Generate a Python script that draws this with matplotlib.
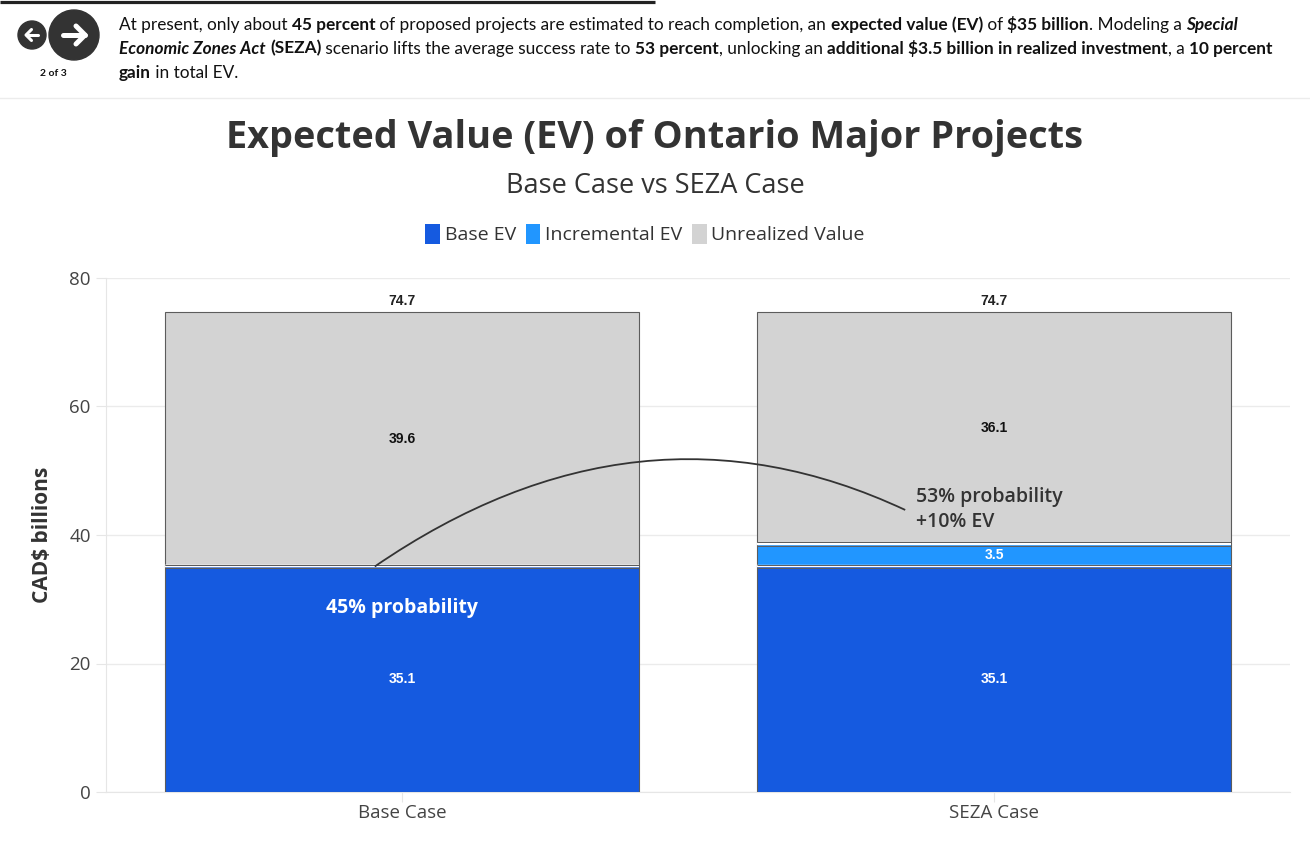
import numpy as np
import matplotlib
matplotlib.use('Agg')
import matplotlib.pyplot as plt
from matplotlib.patches import Circle, Patch, PathPatch
from matplotlib.path import Path
from matplotlib.transforms import offset_copy
from matplotlib.font_manager import FontProperties

plt.rcParams['font.family'] = ['Open Sans', 'DejaVu Sans']

categories = ['Base Case', 'SEZA Case']
base_ev = [35.1, 35.1]
incremental_ev = [0.0, 3.5]
unrealized = [39.6, 36.1]
probabilities = ['45% probability', '53% probability']
ev_gain = '+10% EV'

series_names = ['Base EV', 'Incremental EV', 'Unrealized Value']
colors = ['#155ae0', '#2196ff', '#d3d3d3']
label_colors = ['white', 'white', '#111111']
edge = '#5c5c5c'

W, H = 1310, 841
fig = plt.figure(figsize=(W / 100, H / 100), dpi=100)
fig.patch.set_facecolor('white')

# header strip, drawn in pixel units
hdr = fig.add_axes([0, 0, 1, 1], zorder=0)
hdr.set_xlim(0, W)
hdr.set_ylim(H, 0)
hdr.axis('off')

hdr.plot([0, 655], [1.5, 1.5], color='#222222', lw=2.3, solid_capstyle='butt')
hdr.plot([0, W], [97.5, 97.5], color='#ececec', lw=1)

hdr.add_patch(Circle((32, 35), 14, color='#333333'))
hdr.add_patch(Circle((74, 35), 25, color='#333333'))
hdr.plot([38, 26.5], [35, 35], color='white', lw=2.2, solid_capstyle='round')
hdr.plot([31.5, 26, 31.5], [29.5, 35, 40.5], color='white', lw=2.2,
         solid_capstyle='round', solid_joinstyle='round')
hdr.plot([63, 85], [35, 35], color='white', lw=3.6, solid_capstyle='round')
hdr.plot([76, 85, 76], [26, 35, 44], color='white', lw=3.6,
         solid_capstyle='round', solid_joinstyle='round')
hdr.text(53, 73, '2 of 3', ha='center', va='center', fontsize=7.5,
         fontweight='bold', family='Lato', color='#111111')

renderer = fig.canvas.get_renderer()


def text_width(s, size, weight, style):
    fp = FontProperties(family='Lato', size=size, weight=weight, style=style)
    w1 = renderer.get_text_width_height_descent('x' + s + 'x', fp, ismath=False)[0]
    w0 = renderer.get_text_width_height_descent('xx', fp, ismath=False)[0]
    return w1 - w0


N, B, BI = ('normal', 'normal'), ('bold', 'normal'), ('bold', 'italic')
para = [
    [("At present, only about ", N), ("45 percent", B),
     (" of proposed projects are estimated to reach completion, an ", N),
     ("expected value (EV)", B), (" of ", N), ("$35 billion", B),
     (". Modeling a ", N), ("Special", BI)],
    [("Economic Zones Act", BI), (" ", N), ("(SEZA)", B),
     (" scenario lifts the average success rate to ", N), ("53 percent", B),
     (", unlocking an ", N), ("additional $3.5 billion in realized investment", B),
     (", a ", N), ("10 percent", B)],
    [("gain", B), (" in total EV.", N)],
]
psize = 12.4
for row, base_y in zip(para, [29.5, 53.5, 77.5]):
    xx = 119
    for s, (wt, st) in row:
        hdr.text(xx, base_y, s, fontsize=psize, fontweight=wt, fontstyle=st,
                 family='Lato', color='#111111', va='baseline', ha='left')
        xx += text_width(s, psize, wt, st)

# titles and legend
fig.text(0.5, 1 - 138 / H, 'Expected Value (EV) of Ontario Major Projects',
         ha='center', va='center', fontsize=27.3, fontweight='bold', color='#333333')
fig.text(0.5, 1 - 186 / H, 'Base Case vs SEZA Case', ha='center', va='center',
         fontsize=19.5, color='#333333')

# chart
ax = fig.add_axes([106 / W, 1 - 792 / H, (1290 - 106) / W, (792 - 278) / H], zorder=2)
ax.set_facecolor('none')
x = np.arange(len(categories))
width = 0.8
bottoms = np.zeros(len(categories))
for vals, name, col, lc in zip([base_ev, incremental_ev, unrealized],
                               series_names, colors, label_colors):
    ax.bar(x, vals, width, bottom=bottoms, color=col, edgecolor=edge,
           linewidth=0.8, label=name, zorder=3)
    for xi, v, b in zip(x, vals, bottoms):
        if v > 0:
            ax.text(xi, b + v / 2, f'{v:.1f}', ha='center', va='center',
                    fontsize=10, fontweight='bold', color=lc,
                    family='Liberation Sans', zorder=7)
    bottoms = bottoms + np.array(vals)

# white gaps between stacked segments
for i, xi in enumerate(x):
    for yb in [base_ev[i], base_ev[i] + incremental_ev[i]]:
        xs = [xi - width / 2, xi + width / 2]
        ax.plot(xs, [yb, yb], color='white', lw=1.7, zorder=4, solid_capstyle='butt')
        for dy in (-1.1, 1.1):
            tr = offset_copy(ax.transData, fig=fig, x=0, y=dy, units='points')
            ax.plot(xs, [yb, yb], color=edge, lw=0.7, transform=tr, zorder=5,
                    solid_capstyle='butt')

for xi, tot in zip(x, bottoms):
    ax.annotate(f'{tot:.1f}', (xi, tot), xytext=(0, 3), textcoords='offset points',
                ha='center', va='bottom', fontsize=10, fontweight='bold',
                color='#222222', family='Liberation Sans')

# probability annotations
ax.text(x[0], 28.6, probabilities[0], ha='center', va='center', color='white',
        fontsize=14, fontweight='bold', zorder=7)
start = (x[0] - 0.046, base_ev[0])
ctrl = (0.40, 63.3)
end = (0.85, 43.9)
curve = Path([start, ctrl, end], [Path.MOVETO, Path.CURVE3, Path.CURVE3])
ax.add_patch(PathPatch(curve, fill=False, edgecolor='#333333', lw=1.3, zorder=6))
ax.text(0.868, 44.0, f'{probabilities[1]}\n{ev_gain}', ha='left', va='center',
        fontsize=14, fontweight='semibold', color='#333333', linespacing=1.3, zorder=7)

ax.set_xlim(-0.5, 1.5)
ax.set_ylim(0, 80)
ax.set_yticks([0, 20, 40, 60, 80])
ax.set_xticks(x)
ax.set_xticklabels(categories)
ax.yaxis.grid(True, color='#ebebeb', lw=1)
ax.set_axisbelow(True)
for side in ['top', 'right']:
    ax.spines[side].set_visible(False)
for side in ['left', 'bottom']:
    ax.spines[side].set_color('#e6e6e6')
ax.tick_params(axis='y', length=7, color='#e6e6e6', labelsize=13.5,
               labelcolor='#444444', pad=4)
ax.tick_params(axis='x', length=7, color='#e6e6e6', labelsize=13.5,
               labelcolor='#444444', pad=2)
ax.set_ylabel('CAD$ billions', fontsize=15, fontweight='bold', color='#333333')
ax.yaxis.set_label_coords((53 - 106) / (1290 - 106), 0.5)

handles = [Patch(facecolor=c, edgecolor='none', label=n) for c, n in zip(colors, series_names)]
fig.legend(handles=handles, loc='center', bbox_to_anchor=(645 / W, 1 - 234 / H),
           ncol=3, frameon=False, fontsize=14, handlelength=0.75, handleheight=1.2,
           handletextpad=0.25, columnspacing=0.5, labelcolor='#333333')

fig.savefig('out.png', dpi=100, facecolor='white')
